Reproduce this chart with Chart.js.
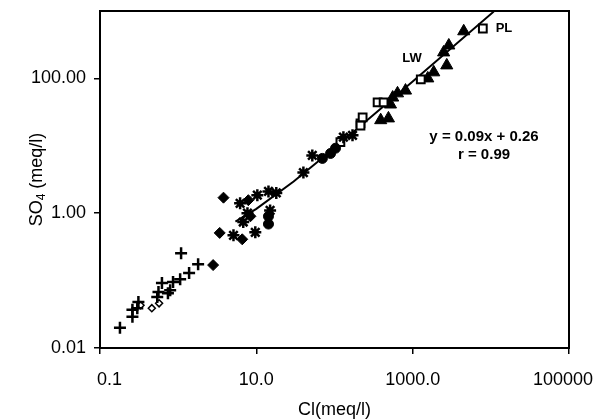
<!DOCTYPE html>
<html>
<head>
<meta charset="utf-8">
<script src="https://cdn.jsdelivr.net/npm/chart.js@4.4.1/dist/chart.umd.min.js"></script>
<style>
  html, body { margin: 0; padding: 0; background: #fff; }
</style>
</head>
<body>
<canvas id="grafico" width="595" height="420"></canvas>
<script>
// eixos
const xTickValues = [0.1, 10, 1000, 100000];
const xTickLabels = ["0.1", "10.0", "1000.0", "100000"];
const yTickValues = [0.01, 1, 100];
const yTickLabels = ["0.01", "1.00", "100.00"];

// series (Cl, SO4) em meq/l
const plusCl  = [0.18, 0.26, 0.26, 0.30, 0.31, 0.54, 0.74, 0.56, 0.79, 0.62, 0.86, 1.06, 1.38, 1.8, 1.09];
const plusSO4 = [0.020, 0.029, 0.037, 0.039, 0.048, 0.057, 0.065, 0.068, 0.072, 0.092, 0.095, 0.105, 0.13, 0.175, 0.255];

const openCl  = [0.33, 0.46, 0.57];
const openSO4 = [0.043, 0.039, 0.046];

const diamondCl  = [2.8, 3.4, 3.8, 6.6, 7.9, 8.4];
const diamondSO4 = [0.17, 0.51, 1.7, 0.41, 1.56, 0.90];

const starCl  = [6.2, 10.3, 14.3, 18, 7.7, 15, 6.8, 5.1, 9.7, 40, 52, 130, 170];
const starSO4 = [1.4, 1.85, 2.1, 2.0, 1.0, 1.1, 0.74, 0.47, 0.52, 4.0, 7.2, 13.4, 14.3];

const circleCl  = [14.3, 14.3, 70, 89, 103];
const circleSO4 = [0.90, 0.69, 6.5, 7.7, 9.2];

const squareCl  = [119, 215, 215, 229, 356, 425, 1270, 7900];
const squareSO4 = [11.3, 21.5, 20, 26.4, 44, 44, 97, 550];

const triCl  = [390, 490, 520, 555, 640, 810, 1560, 1860, 2730, 2490, 2900, 4500];
const triSO4 = [24, 25.5, 41, 52, 60, 66, 100, 123, 156, 243, 308, 500];

// reta de regressao
const fitCl  = [5.4, 10, 30, 100, 1000, 10900];
const fitSO4 = [0.75, 1.16, 2.96, 9.3, 90, 980];

const pts = (xs, ys) => xs.map((x, i) => ({ x: x, y: ys[i] }));
const fonte = "'Liberation Sans', Arial, sans-serif";

// moldura + textos
const moldura = {
  id: "moldura",
  afterDraw(chart) {
    const { ctx, chartArea: a, scales } = chart;
    ctx.save();
    ctx.strokeStyle = "#000";
    ctx.lineWidth = 2;
    ctx.strokeRect(a.left, a.top, a.right - a.left, a.bottom - a.top);

    ctx.fillStyle = "#000";
    ctx.font = "18px " + fonte;
    ctx.textBaseline = "middle";
    ctx.textAlign = "right";
    yTickValues.forEach((v, i) => {
      ctx.fillText(yTickLabels[i], a.left - 14, scales.y.getPixelForValue(v));
    });
    ctx.textAlign = "center";
    xTickValues.forEach((v, i) => {
      const w = ctx.measureText(xTickLabels[i]).width;
      let cx = scales.x.getPixelForValue(v);
      cx = Math.max(cx, a.left - 3 + w / 2);
      cx = Math.min(cx, chart.width - 2 - w / 2);
      ctx.fillText(xTickLabels[i], cx, a.bottom + 32);
    });

    // titulo x
    ctx.fillText("Cl(meq/l)", (a.left + a.right) / 2, 410);

    // titulo y com subscrito
    ctx.save();
    ctx.translate(37, (a.top + a.bottom) / 2);
    ctx.rotate(-Math.PI / 2);
    ctx.textAlign = "left";
    const f1 = "18px " + fonte, f2 = "12px " + fonte;
    ctx.font = f1; const w1 = ctx.measureText("SO").width;
    ctx.font = f2; const w2 = ctx.measureText("4").width;
    ctx.font = f1; const w3 = ctx.measureText(" (meq/l)").width;
    let x0 = -(w1 + w2 + w3) / 2;
    ctx.font = f1; ctx.fillText("SO", x0, 0);
    ctx.font = f2; ctx.fillText("4", x0 + w1, 5);
    ctx.font = f1; ctx.fillText(" (meq/l)", x0 + w1 + w2, 0);
    ctx.restore();

    // anotacoes
    ctx.font = "bold 15px " + fonte;
    ctx.fillText("y = 0.09x + 0.26", 484, 137);
    ctx.fillText("r = 0.99", 484, 155);
    ctx.font = "bold 13px " + fonte;
    ctx.fillText("LW", 412, 58);
    ctx.fillText("PL", 504, 28);
    ctx.restore();
  }
};

const eixo = (valores) => ({
  type: "logarithmic",
  afterBuildTicks: s => { s.ticks = valores.map(v => ({ value: v })); },
  ticks: { display: false },
  grid: { drawOnChartArea: false, drawTicks: true, tickLength: 6, color: "#000", lineWidth: 1.5 },
  border: { display: true, color: "#000", width: 2 }
});

const escalaX = eixo(xTickValues);
escalaX.min = 0.1; escalaX.max = 100000;
escalaX.afterFit = s => { s.height = 72; s.paddingLeft = 0; s.paddingRight = 0; };
const escalaY = eixo(yTickValues);
escalaY.min = 0.01; escalaY.max = 1000;
escalaY.afterFit = s => { s.width = 100; s.paddingTop = 0; s.paddingBottom = 0; };

new Chart(document.getElementById("grafico"), {
  type: "scatter",
  data: {
    datasets: [
      { data: pts(plusCl, plusSO4), pointStyle: "cross", pointRadius: 6, borderWidth: 2.5, borderColor: "#000" },
      { data: pts(openCl, openSO4), pointStyle: "rectRot", pointRadius: 3.5, borderWidth: 1.5, borderColor: "#000", backgroundColor: "#fff" },
      { data: pts(diamondCl, diamondSO4), pointStyle: "rectRot", pointRadius: 5.5, borderWidth: 1, borderColor: "#000", backgroundColor: "#000" },
      { data: pts(starCl, starSO4), pointStyle: "star", pointRadius: 6, borderWidth: 2.5, borderColor: "#000" },
      { data: pts(circleCl, circleSO4), pointStyle: "circle", pointRadius: 5, borderWidth: 1, borderColor: "#000", backgroundColor: "#000" },
      { data: pts(squareCl, squareSO4), pointStyle: "rect", pointRadius: 5.5, borderWidth: 2, borderColor: "#000", backgroundColor: "#fff" },
      { data: pts(triCl, triSO4), pointStyle: "triangle", pointRadius: 7, borderWidth: 1, borderColor: "#000", backgroundColor: "#000" },
      { data: pts(fitCl, fitSO4), showLine: true, pointRadius: 0, borderWidth: 2, borderColor: "#000", order: 10 }
    ]
  },
  options: {
    responsive: false,
    animation: false,
    devicePixelRatio: 1,
    layout: { padding: { top: 11, right: 26, left: 0, bottom: 0 } },
    plugins: { legend: { display: false }, tooltip: { enabled: false } },
    scales: { x: escalaX, y: escalaY }
  },
  plugins: [moldura]
});
</script>
</body>
</html>
